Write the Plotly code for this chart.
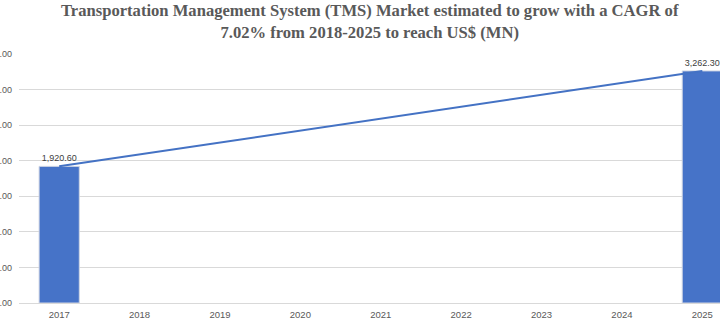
import plotly.graph_objects as go

# Market size, US$ million
years = ["2017", "2018", "2019", "2020", "2021", "2022", "2023", "2024", "2025"]
bar_years = ["2017", "2025"]
bar_values = [1920.60, 3262.30]
y_ticks = [0, 500, 1000, 1500, 2000, 2500, 3000, 3500]

title_text = ("<b>Transportation Management System (TMS) Market estimated to grow with a CAGR of<br>"
              "7.02% from 2018-2025 to reach US$ (MN)</b>")

fig = go.Figure()

fig.add_trace(go.Bar(
    x=bar_years,
    y=bar_values,
    width=0.5,
    marker=dict(color="#4673C8", line=dict(width=1, color="#D0D6E4")),
    texttemplate="%{y:,.2f}",
    textposition="outside",
    textfont=dict(family="Liberation Sans", size=9, color="#404040"),
    cliponaxis=False,
    hoverinfo="skip",
))

fig.add_trace(go.Scatter(
    x=bar_years,
    y=bar_values,
    mode="lines",
    line=dict(color="#4472C4", width=2),
    hoverinfo="skip",
))

fig.add_annotation(
    text=title_text,
    xref="paper", yref="paper",
    x=0.5, y=1, xanchor="center", yanchor="bottom",
    yshift=10,
    showarrow=False,
    align="center",
    font=dict(family="Liberation Serif", size=16.6, color="#595959"),
)

fig.update_layout(
    width=720,
    height=324,
    margin=dict(l=19, r=0, t=54, b=21),
    paper_bgcolor="white",
    plot_bgcolor="white",
    showlegend=False,
    xaxis=dict(
        type="category",
        categoryorder="array",
        categoryarray=years,
        range=[-0.5, 8.22],
        automargin=False,
        showgrid=False,
        showline=False,
        ticks="",
        ticklabelstandoff=4,
        tickfont=dict(family="Liberation Sans", size=9.5, color="#595959"),
    ),
    yaxis=dict(
        range=[0, 3500],
        tickvals=y_ticks,
        tickformat=",.2f",
        automargin=False,
        showgrid=True,
        gridcolor="#D9D9D9",
        gridwidth=1,
        zeroline=True,
        zerolinecolor="#D9D9D9",
        zerolinewidth=1,
        showline=False,
        ticks="",
        ticklabelstandoff=6,
        tickfont=dict(family="Liberation Sans", size=9, color="#595959"),
    ),
)

fig.write_html("out.html")
